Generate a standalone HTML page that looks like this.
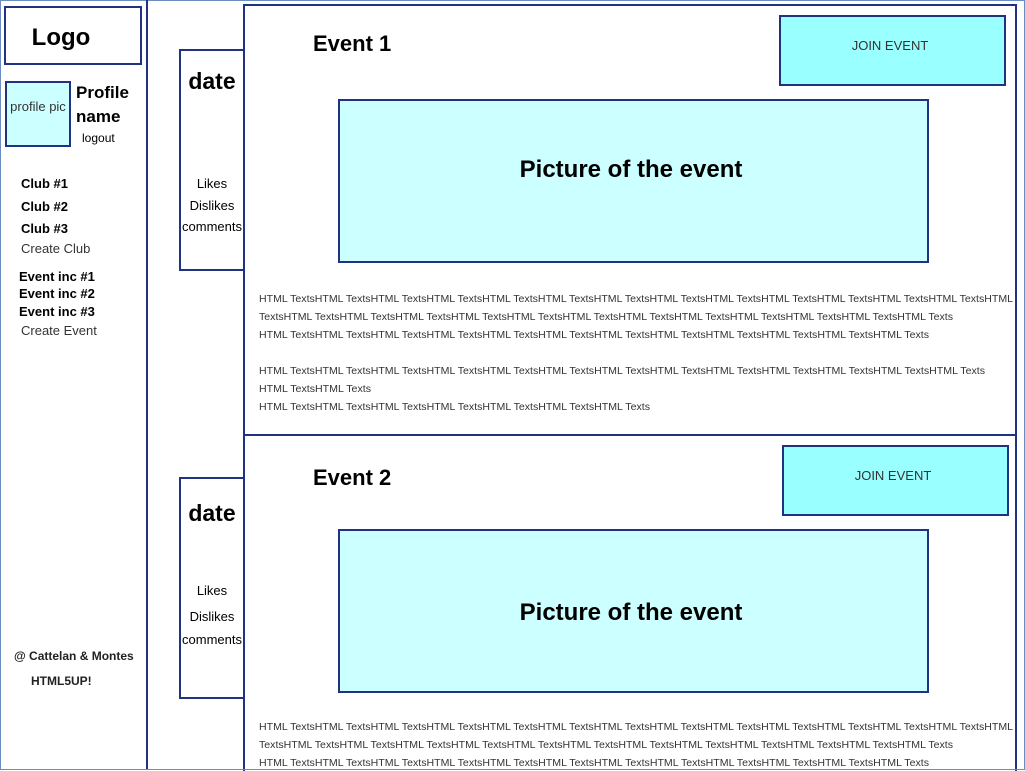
<!DOCTYPE html>
<html><head><meta charset="utf-8"><style>
html,body{margin:0;padding:0;background:#fff;}
svg{display:block;font-family:"Liberation Sans",Arial,sans-serif;}
</style></head><body>
<svg width="1025" height="771" viewBox="0 0 1025 771" xmlns="http://www.w3.org/2000/svg">
<rect x="0" y="0" width="1025" height="771" fill="#fff"/>
<rect x="0.5" y="0.5" width="1024" height="769" fill="none" stroke="#6c8ebf" stroke-width="1"/>
<g stroke="#1f3380" stroke-width="2" fill="none">
<line x1="147" y1="0" x2="147" y2="770"/>
<rect x="5" y="7" width="136" height="57"/>
<rect x="6" y="82" width="64" height="64" fill="#ccffff"/>
<rect x="180" y="50" width="64" height="220"/>
<rect x="180" y="478" width="64" height="220"/>
<rect x="244" y="5" width="772" height="430"/>
<rect x="244" y="435" width="772" height="340"/>
<rect x="780" y="16" width="225" height="69" fill="#99ffff"/>
<rect x="783" y="446" width="225" height="69" fill="#99ffff"/>
<rect x="339" y="100" width="589" height="162" fill="#ccffff"/>
<rect x="339" y="530" width="589" height="162" fill="#ccffff"/>
</g>
<g fill="#000">
<text x="61" y="45" font-size="24" font-weight="bold" text-anchor="middle">Logo</text>
<text x="38" y="111" font-size="13" text-anchor="middle" fill="#333">profile pic</text>
<text x="76" y="98" font-size="17" font-weight="bold">Profile</text>
<text x="76" y="122" font-size="17" font-weight="bold">name</text>
<text x="82" y="142" font-size="12">logout</text>
<g font-size="13" font-weight="bold">
<text x="21" y="188">Club #1</text>
<text x="21" y="211">Club #2</text>
<text x="21" y="233">Club #3</text>
<text x="19" y="281">Event inc #1</text>
<text x="19" y="298">Event inc #2</text>
<text x="19" y="316">Event inc #3</text>
</g>
<text x="21" y="253" font-size="13" fill="#333">Create Club</text>
<text x="21" y="335" font-size="13" fill="#333">Create Event</text>
<text x="14" y="660" font-size="12" font-weight="bold" fill="#222">@ Cattelan &amp; Montes</text>
<text x="31" y="685" font-size="12" font-weight="bold" fill="#222">HTML5UP!</text>
<g text-anchor="middle">
<text x="212" y="89" font-size="23" font-weight="bold">date</text>
<text x="212" y="188" font-size="13">Likes</text>
<text x="212" y="210" font-size="13">Dislikes</text>
<text x="212" y="231" font-size="13">comments</text>
<text x="212" y="521" font-size="23" font-weight="bold">date</text>
<text x="212" y="595" font-size="13">Likes</text>
<text x="212" y="621" font-size="13">Dislikes</text>
<text x="212" y="644" font-size="13">comments</text>
<text x="890" y="50" font-size="13" fill="#333">JOIN EVENT</text>
<text x="893" y="480" font-size="13" fill="#333">JOIN EVENT</text>
<text x="631" y="177" font-size="24" font-weight="bold">Picture of the event</text>
<text x="631" y="620" font-size="24" font-weight="bold">Picture of the event</text>
</g>
<text x="313" y="51" font-size="22" font-weight="bold">Event 1</text>
<text x="313" y="485" font-size="22" font-weight="bold">Event 2</text>
<g font-size="10" fill="#333">
<text x="259" y="302" textLength="754" lengthAdjust="spacingAndGlyphs">HTML TextsHTML TextsHTML TextsHTML TextsHTML TextsHTML TextsHTML TextsHTML TextsHTML TextsHTML TextsHTML TextsHTML TextsHTML TextsHTML</text>
<text x="259" y="320" textLength="694" lengthAdjust="spacingAndGlyphs">TextsHTML TextsHTML TextsHTML TextsHTML TextsHTML TextsHTML TextsHTML TextsHTML TextsHTML TextsHTML TextsHTML TextsHTML Texts</text>
<text x="259" y="338" textLength="670" lengthAdjust="spacingAndGlyphs">HTML TextsHTML TextsHTML TextsHTML TextsHTML TextsHTML TextsHTML TextsHTML TextsHTML TextsHTML TextsHTML TextsHTML Texts</text>
<text x="259" y="374" textLength="726" lengthAdjust="spacingAndGlyphs">HTML TextsHTML TextsHTML TextsHTML TextsHTML TextsHTML TextsHTML TextsHTML TextsHTML TextsHTML TextsHTML TextsHTML TextsHTML Texts</text>
<text x="259" y="392" textLength="112" lengthAdjust="spacingAndGlyphs">HTML TextsHTML Texts</text>
<text x="259" y="410" textLength="391" lengthAdjust="spacingAndGlyphs">HTML TextsHTML TextsHTML TextsHTML TextsHTML TextsHTML TextsHTML Texts</text>
<text x="259" y="730" textLength="754" lengthAdjust="spacingAndGlyphs">HTML TextsHTML TextsHTML TextsHTML TextsHTML TextsHTML TextsHTML TextsHTML TextsHTML TextsHTML TextsHTML TextsHTML TextsHTML TextsHTML</text>
<text x="259" y="748" textLength="694" lengthAdjust="spacingAndGlyphs">TextsHTML TextsHTML TextsHTML TextsHTML TextsHTML TextsHTML TextsHTML TextsHTML TextsHTML TextsHTML TextsHTML TextsHTML Texts</text>
<text x="259" y="766" textLength="670" lengthAdjust="spacingAndGlyphs">HTML TextsHTML TextsHTML TextsHTML TextsHTML TextsHTML TextsHTML TextsHTML TextsHTML TextsHTML TextsHTML TextsHTML Texts</text>
</g>
</g>
<line x1="0" y1="769.5" x2="1025" y2="769.5" stroke="#6c8ebf" stroke-width="1"/>
</svg>
</body></html>
